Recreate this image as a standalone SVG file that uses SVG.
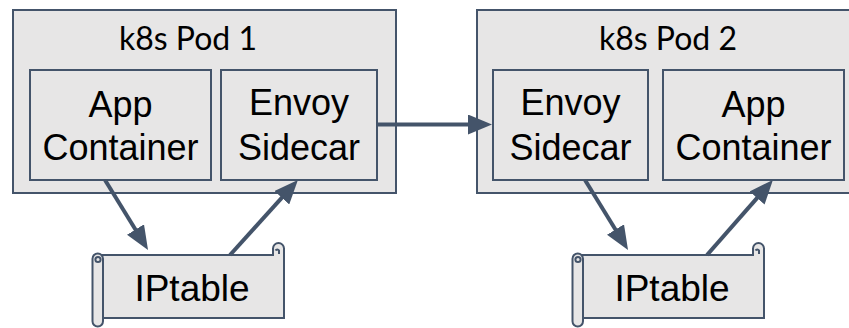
<svg xmlns="http://www.w3.org/2000/svg" width="849" height="328" viewBox="0 0 849 328">
  <style>
    .box { fill: #E7E6E6; stroke: #44546A; stroke-width: 2; }
    .title { font-family: Lato, "Liberation Sans", sans-serif; font-size: 32px; fill: #000; text-anchor: middle; }
    .lbl { font-family: "Liberation Sans", Arial, sans-serif; font-size: 36px; fill: #000; text-anchor: middle; }
    .ipt { font-family: "Liberation Sans", Arial, sans-serif; font-size: 37px; fill: #000; text-anchor: middle; }
    .conn { stroke: #44546A; stroke-width: 4; fill: none; marker-end: url(#arrow); }
    .curl { fill: none; stroke: #44546A; stroke-width: 2; }
  </style>
  <defs>
    <marker id="arrow" markerUnits="userSpaceOnUse" markerWidth="24" markerHeight="20" refX="14" refY="10" orient="auto">
      <path d="M0,0 L24,10 L0,20 Z" fill="#44546A"/>
    </marker>
    <g id="scroll">
      <path class="box" d="M98 255 L273 255 L273 248.5 A5.5 5.5 0 0 1 284 248.5 L284 318 L98 318 Z"/>
      <path class="curl" d="M279 254 L279 250.5 A2 2 0 0 0 275.5 250.5"/>
      <rect class="box" x="92.5" y="253.5" width="10.5" height="73" rx="5.25"/>
      <circle class="curl" cx="98" cy="259.5" r="2.6"/>
    </g>
  </defs>

  <g id="pod1">
    <rect class="box" x="13" y="10" width="383" height="183"/>
    <text class="title" x="188" y="50">k8s Pod 1</text>
  </g>
  <g id="pod1-app">
    <rect class="box" x="30" y="70" width="181" height="110"/>
    <text class="lbl" x="120.5" y="117">App</text>
    <text class="lbl" x="120.5" y="160">Container</text>
  </g>
  <g id="pod1-envoy">
    <rect class="box" x="221" y="70" width="156" height="110"/>
    <text class="lbl" x="299" y="115">Envoy</text>
    <text class="lbl" x="299" y="160">Sidecar</text>
  </g>

  <g id="pod2">
    <rect class="box" x="477" y="10" width="374" height="183"/>
    <text class="title" x="668" y="50">k8s Pod 2</text>
  </g>
  <g id="pod2-envoy">
    <rect class="box" x="493" y="70" width="155" height="110"/>
    <text class="lbl" x="570.5" y="115">Envoy</text>
    <text class="lbl" x="570.5" y="160">Sidecar</text>
  </g>
  <g id="pod2-app">
    <rect class="box" x="663" y="70" width="181" height="110"/>
    <text class="lbl" x="753.5" y="117">App</text>
    <text class="lbl" x="753.5" y="160">Container</text>
  </g>

  <g id="iptable1">
    <use href="#scroll"/>
    <text class="ipt" x="192" y="301">IPtable</text>
  </g>
  <g id="iptable2">
    <use href="#scroll" transform="translate(480,0)"/>
    <text class="ipt" x="672" y="301">IPtable</text>
  </g>

  <g id="connectors">
    <line class="conn" x1="377" y1="124.5" x2="482" y2="124.5"/>
    <line class="conn" x1="105" y1="180" x2="142.8" y2="241.5"/>
    <line class="conn" x1="230" y1="255" x2="291.2" y2="187.4"/>
    <line class="conn" x1="585" y1="180" x2="622.8" y2="241.5"/>
    <line class="conn" x1="707" y1="255" x2="766.3" y2="187.5"/>
  </g>
</svg>
